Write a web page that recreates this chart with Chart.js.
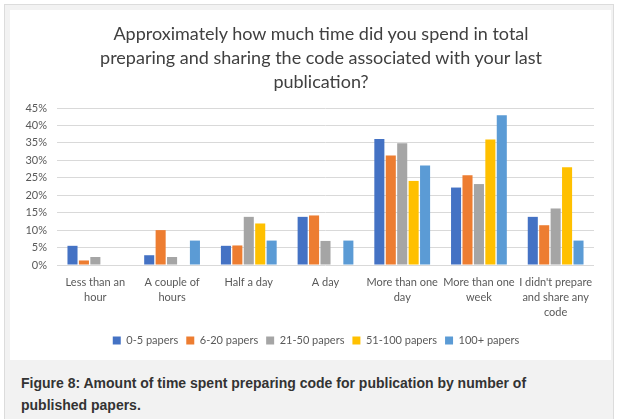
<!DOCTYPE html>
<html>
<head>
<meta charset="utf-8">
<script src="https://cdn.jsdelivr.net/npm/chart.js@4"></script>
<style>
  html, body { margin: 0; padding: 0; background: #fff; }
  #frame {
    position: absolute; left: 4px; top: 4px; width: 610px; height: 420px;
    background: #f2f2f2; border: 1px solid #dcdcdc; box-sizing: border-box;
  }
  #panel {
    position: absolute; left: 5px; top: 5px; width: 601px; height: 350px; background: #fff;
  }
  #title {
    position: absolute; left: 11px; top: 11px; width: 600px; text-align: center;
    font: 18px "Lato", "Open Sans", sans-serif; color: #404040; line-height: 24px;
  }
  #chart { position: absolute; left: 0; top: 0; }
  #caption {
    position: absolute; left: 16px; top: 367px; width: 545px;
    font: bold 14px "Liberation Sans", Arial, sans-serif; color: #333; line-height: 22px;
  }
</style>
</head>
<body>
<div id="frame">
  <div id="panel">
    <canvas id="chart" width="601" height="350"></canvas>
    <div id="title">Approximately how much time did you spend in total<br>preparing and sharing the code associated with your last<br>publication?</div>
  </div>
  <div id="caption">Figure 8: Amount of time spent preparing code for publication by number of published papers.</div>
</div>
<script>
const categories = [
  ['Less than an', 'hour'],
  ['A couple of', 'hours'],
  'Half a day',
  'A day',
  ['More than one', 'day'],
  ['More than one', 'week'],
  ["I didn't prepare", 'and share any', 'code']
];
const seriesNames = ['0-5 papers', '6-20 papers', '21-50 papers', '51-100 papers', '100+ papers'];
const papers0to5    = [5.5, 2.8, 5.5, 13.8, 36.1, 22.2, 13.8];
const papers6to20   = [1.3, 10.0, 5.6, 14.2, 31.4, 25.7, 11.4];
const papers21to50  = [2.3, 2.3, 13.8, 6.9, 34.9, 23.2, 16.2];
const papers51to100 = [0, 0, 11.9, 0, 24.1, 36.0, 28.0];
const papers100plus = [0, 7.0, 7.0, 7.0, 28.5, 42.9, 7.0];
const yTicks = [0, 5, 10, 15, 20, 25, 30, 35, 40, 45];
const colors = ['#4472C4', '#ED7D31', '#A5A5A5', '#FFC000', '#5B9BD5'];

const allSeries = [papers0to5, papers6to20, papers21to50, papers51to100, papers100plus];
const font = '"Lato", "Open Sans", sans-serif';

// the legend in the original sits a little right of the canvas centre
const shiftLegend = {
  id: 'shiftLegend',
  afterLayout(chart) {
    chart.legend.left += 14;
    chart.legend.right += 14;
  }
};

new Chart(document.getElementById('chart'), {
  type: 'bar',
  data: {
    labels: categories,
    datasets: allSeries.map((vals, i) => ({
      label: seriesNames[i],
      data: vals,
      backgroundColor: colors[i],
      categoryPercentage: 0.745,
      barPercentage: 0.88
    }))
  },
  options: {
    responsive: false,
    animation: false,
    layout: { padding: { left: 0, right: 17, top: 98, bottom: 4 } },
    plugins: {
      title: { display: false },
      legend: {
        position: 'bottom',
        labels: {
          boxWidth: 8, boxHeight: 8, padding: 8,
          color: '#595959',
          font: { family: font, size: 11 }
        }
      },
      tooltip: { enabled: false }
    },
    scales: {
      x: {
        grid: { display: false },
        border: { display: false },
        ticks: {
          color: '#595959', font: { family: font, size: 11, lineHeight: 1.35 },
          maxRotation: 0, autoSkip: false, padding: 2
        },
        afterFit: s => { s.height = 62; }
      },
      y: {
        min: 0, max: 45,
        afterBuildTicks: s => { s.ticks = yTicks.map(v => ({ value: v })); },
        afterFit: s => { s.width = 47; },
        grid: { color: '#d9d9d9', drawTicks: false },
        border: { display: false },
        ticks: {
          color: '#595959', font: { family: font, size: 11 }, padding: 10,
          callback: v => v + '%'
        }
      }
    }
  },
  plugins: [shiftLegend]
});
</script>
</body>
</html>
